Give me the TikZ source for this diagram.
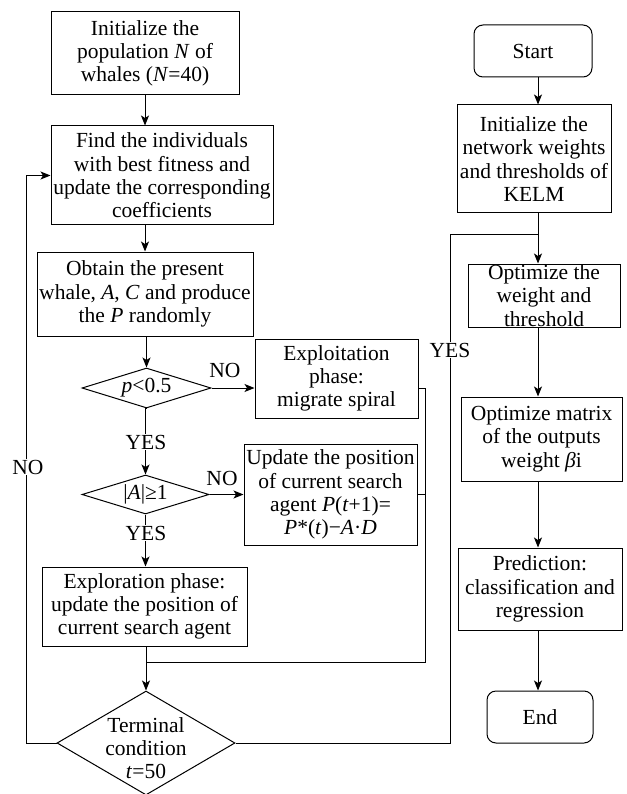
\documentclass[tikz,border=0pt]{standalone}
\usepackage{fontspec}
\setmainfont{Liberation Serif}
\usetikzlibrary{arrows.meta,shapes.geometric}
\begin{document}
\begin{tikzpicture}[x=1pt,y=-1pt,
  every node/.style={font=\fontsize{21.5}{23.3}\selectfont},
  box/.style={draw,line width=1pt,align=center,inner sep=0pt},
  rbox/.style={box,rounded corners=9pt},
  dia/.style={draw,line width=1pt,diamond,inner sep=0pt},
  lbl/.style={fill=white,inner sep=1pt},
  line/.style={line width=1pt},
  arr/.style={line,-{Stealth[length=10pt,width=8pt,inset=2.5pt]}}]
\useasboundingbox (0,0) rectangle (626,794);
% left column
\node[box,minimum width=188,minimum height=83] (b1) at (145,53.5) {Initialize the\\population \textit{N} of\\whales (\textit{N}=40)};
\node[box,minimum width=222,minimum height=99] (b2) at (162,175.5) {Find the individuals\\with best fitness and\\update the corresponding\\coefficients};
\node[box,minimum width=216,minimum height=84] (b3) at (145,294) {Obtain the present\\whale, \textit{A}, \textit{C} and produce\\the \textit{P} randomly};
\node[dia,minimum width=129,minimum height=40] (d1) at (146.5,388) {};
\node (d1t) at (146.5,388) {\textit{p}<0.5};
\node[box,minimum width=163,minimum height=79] (ex) at (336.5,378.5) {Exploitation\\phase:\\migrate spiral};
\node[dia,minimum width=127,minimum height=39] (d2) at (145.5,494.5) {};
\node (d2t) at (145.5,494.5) {|\textit{A}|≥1};
\node[box,minimum width=173,minimum height=101] (up) at (330.5,494.5) {Update the position\\of current search\\agent \textit{P}(\textit{t}+1)=\\\textit{P}*(\textit{t})−\textit{A}·\textit{D}};
\node[box,minimum width=205,minimum height=79] (eo) at (144.5,606.5) {Exploration phase:\\update the position of\\current search agent};
\node[dia,minimum width=178,minimum height=104] (d3) at (146,743) {};
\node[align=center] (d3t) at (146,748) {Terminal\\condition\\\textit{t}=50};
% right column
\node[rbox,minimum width=118,minimum height=52] (st) at (533,51) {Start};
\node[box,minimum width=154,minimum height=108] (ke) at (534,159) {Initialize the\\network weights\\and thresholds of\\KELM};
\node[box,minimum width=152,minimum height=63] (op) at (544,295.5) {Optimize the\\weight and\\threshold};
\node[box,minimum width=161,minimum height=84] (ma) at (541.5,439) {Optimize matrix\\of the outputs\\weight \textit{β}i};
\node[box,minimum width=164,minimum height=82] (pr) at (540,589) {Prediction:\\classification and\\regression};
\node[rbox,minimum width=106,minimum height=52] (en) at (540,717) {End};
\coordinate (cx) at (538,0);
\coordinate (rx) at (425,662);
\coordinate (nl) at (26,175.5);
\coordinate (yl) at (450,234);
% connectors left
\draw[arr] (b1.south) -- (b1.south |- b2.north);
\draw[arr] (b3.north |- b2.south) -- (b3.north);
\draw[arr] (d1.north |- b3.south) -- (d1.north);
\draw[arr] (d1.east) -- (d1.east -| ex.west);
\node (no1) at (225,370) {NO};
\draw[arr] (d1.south) -- (d2.north |- d1.south) -- (d2.north);
\node[lbl] (yes1) at (146,442) {YES};
\draw[arr] (d2.east) -- (d2.east -| up.west);
\node (no2) at (222,478) {NO};
\draw[arr] (d2.south) -- (d2.south |- eo.north);
\node[lbl] (yes2) at (146,533) {YES};
\draw[arr] (eo.south -| d3.north) -- (d3.north);
\draw[line] (d1.east -| ex.east) -| (rx) -- (rx -| d3.north);
\draw[line] (up.east) -- (up.east -| rx);
\draw[arr] (d3.west) -| (nl) -- (b2.west);
\node[lbl] (no3) at (28,467) {NO};
% connectors right
\draw[arr] (st.south -| cx) -- (ke.north -| cx);
\draw[arr] (ke.south -| cx) -- (op.north -| cx);
\draw[line] (d3.east) -| (yl) -- (yl -| cx);
\node[lbl] (yes3) at (450,350) {YES};
\draw[arr] (op.south -| cx) -- (ma.north -| cx);
\draw[arr] (ma.south -| cx) -- (pr.north -| cx);
\draw[arr] (pr.south -| cx) -- (en.north -| cx);
\end{tikzpicture}
\end{document}
